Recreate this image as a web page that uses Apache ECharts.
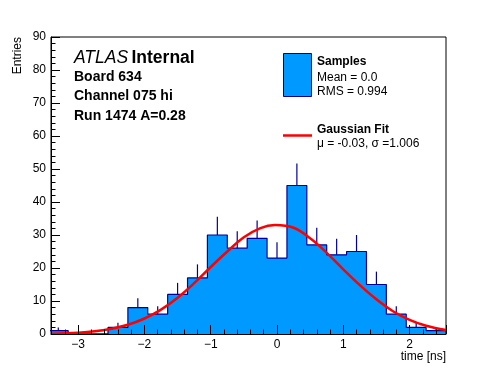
<!DOCTYPE html>
<html><head><meta charset="utf-8">
<script src="https://cdn.jsdelivr.net/npm/echarts@6/dist/echarts.min.js"></script>
<style>html,body{margin:0;padding:0;background:#fff}#c{width:496px;height:372px}</style>
</head><body><div id="c"></div>
<script>
// ---- data ----
const binEdges = [-3.45,-3.15,-2.85,-2.55,-2.25,-1.95,-1.65,-1.35,-1.05,-0.75,-0.45,-0.15,0.15,0.45,0.75,1.05,1.35,1.65,1.95,2.25,2.55];
const counts   = [1,0,0,2,8,6,12,17,30,26,29,23,45,27,24,25,15,6,2,1];
const errors   = [1,0,0,1.4,2.8,2.4,3.5,4.1,5.5,5.1,5.4,4.8,6.7,5.2,4.9,5.0,3.9,2.4,1.4,1];
const fitX = [-3.41,-3.0,-2.75,-2.5,-2.25,-2.0,-1.75,-1.5,-1.25,-1.0,-0.75,-0.5,-0.25,-0.03,0.25,0.5,0.75,1.0,1.25,1.5,1.75,2.0,2.25,2.55];
const fitY = [0.1,0.4,0.8,1.6,2.8,4.7,7.4,11.0,15.4,20.3,25.0,29.3,32.1,33.0,32.2,29.0,24.6,19.6,14.8,10.5,6.9,4.3,2.5,1.2];
const xRange = [-3.41, 2.55];
const yRange = [0, 90];
const yStep = 10;

const FILL = '#0099ff', EDGE = '#000099', FONT = 'Liberation Sans';

const barData = counts.map((n,i)=>[binEdges[i], binEdges[i+1], n]);
const errData = counts.map((n,i)=>[(binEdges[i]+binEdges[i+1])/2, n, n+errors[i]]).filter(d=>d[2]>d[1]);
const stepData = [];
counts.forEach((n,i)=>{ stepData.push([binEdges[i], n]); stepData.push([binEdges[i+1], n]); });
stepData.push([binEdges[binEdges.length-1], 0]);
const fitData = fitX.map((x,i)=>[x, fitY[i]]);

const chart = echarts.init(document.getElementById('c'), null, {renderer:'canvas'});
const axisCommon = {
  z: 10,
  axisLine: {show:true, onZero:false, lineStyle:{color:'#000', width:1}},
  axisTick: {show:true, inside:true, length:9, lineStyle:{color:'#000', width:1}},
  minorTick: {show:true, splitNumber:5, length:4.5, lineStyle:{color:'#000', width:1}},
  splitLine: {show:false},
  minorSplitLine: {show:false}
};
chart.setOption({
  animation:false,
  grid:{left:51, right:50, top:37, bottom:38, show:true, borderColor:'#000', borderWidth:1, backgroundColor:'transparent'},
  xAxis: Object.assign({type:'value', min:xRange[0], max:xRange[1], splitNumber:6,
    axisLabel:{color:'#000', fontFamily:FONT, fontSize:12, margin:5, showMinLabel:false, showMaxLabel:false,
      formatter:v=>String(v).replace('-', '\u2212')}}, axisCommon),
  yAxis: Object.assign({type:'value', min:yRange[0], max:yRange[1], interval:yStep,
    axisLabel:{color:'#000', fontFamily:FONT, fontSize:12, margin:5, padding:[3,0,0,0]}}, axisCommon),
  series:[
    {type:'custom', clip:true, z:2, data:barData, encode:{x:[0,1], y:2},
      renderItem:(p,api)=>{
        const a = api.coord([api.value(0), api.value(2)]);
        const b = api.coord([api.value(1), 0]);
        const x0 = Math.round(a[0]), x1 = Math.round(b[0]);
        return {type:'rect', shape:{x:x0, y:a[1], width:x1-x0, height:b[1]-a[1]}, style:{fill:FILL}};
      }},
    {type:'custom', clip:true, z:3, data:errData, encode:{x:0, y:[1,2]},
      renderItem:(p,api)=>{
        const a = api.coord([api.value(0), api.value(1)]);
        const b = api.coord([api.value(0), api.value(2)]);
        return {type:'line', shape:{x1:a[0], y1:a[1], x2:b[0], y2:b[1]}, style:{stroke:EDGE, lineWidth:1.2}};
      }},
    {type:'line', z:4, data:stepData, symbol:'none', clip:true, lineStyle:{color:EDGE, width:1.2}},
    {type:'line', z:5, data:fitData, symbol:'none', smooth:0.4, clip:true, lineStyle:{color:'#ff0000', width:2.5}}
  ],
  graphic:[
    {type:'text', x:18, y:37, rotation:Math.PI/2, style:{text:'Entries', font:'12px "Liberation Sans"', fill:'#000', align:'right', verticalAlign:'middle'}},
    {type:'text', x:446, y:356.5, style:{text:'time [ns]', font:'12px "Liberation Sans"', fill:'#000', align:'right', verticalAlign:'middle'}},
    {type:'text', x:74, y:58, style:{text:'{a|ATLAS} {b|Internal}', verticalAlign:'middle', fill:'#000',
      rich:{a:{fontStyle:'italic', fontSize:17.5, fontFamily:FONT, fill:'#000'}, b:{fontWeight:'bold', fontSize:17.5, fontFamily:FONT, fill:'#000'}}}},
    {type:'text', x:74, y:77.5, style:{text:'Board 634', font:'bold 14px "Liberation Sans"', fill:'#000', verticalAlign:'middle'}},
    {type:'text', x:74, y:96.5, style:{text:'Channel 075 hi', font:'bold 14px "Liberation Sans"', fill:'#000', verticalAlign:'middle'}},
    {type:'text', x:74, y:116, style:{text:'Run 1474 A=0.28', font:'bold 14px "Liberation Sans"', fill:'#000', verticalAlign:'middle'}},
    {type:'rect', shape:{x:283.5, y:53.5, width:28, height:43}, style:{fill:FILL, stroke:EDGE, lineWidth:1}},
    {type:'text', x:317, y:62, style:{text:'Samples', font:'bold 12px "Liberation Sans"', fill:'#000', verticalAlign:'middle'}},
    {type:'text', x:317, y:78, style:{text:'Mean = 0.0', font:'12px "Liberation Sans"', fill:'#000', verticalAlign:'middle'}},
    {type:'text', x:317, y:91.5, style:{text:'RMS = 0.994', font:'12px "Liberation Sans"', fill:'#000', verticalAlign:'middle'}},
    {type:'line', shape:{x1:283, y1:135.5, x2:312, y2:135.5}, style:{stroke:'#ff0000', lineWidth:2.5}},
    {type:'text', x:317, y:130, style:{text:'Gaussian Fit', font:'bold 12px "Liberation Sans"', fill:'#000', verticalAlign:'middle'}},
    {type:'text', x:317, y:143.5, style:{text:'\u03bc = -0.03, \u03c3 =1.006', font:'12px "Liberation Sans"', fill:'#000', verticalAlign:'middle'}}
  ]
});
</script></body></html>
